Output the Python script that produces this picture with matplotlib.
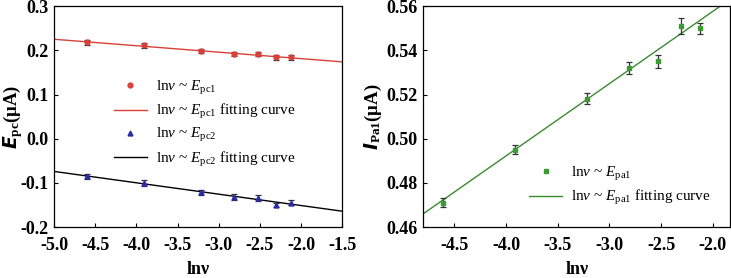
import matplotlib.pyplot as plt
import numpy as np

plt.rcParams['font.family'] = ['Liberation Serif', 'DejaVu Serif']
plt.rcParams['mathtext.fontset'] = 'custom'
plt.rcParams['mathtext.rm'] = 'Liberation Serif'
plt.rcParams['mathtext.it'] = 'Liberation Serif:italic'
plt.rcParams['mathtext.bf'] = 'Liberation Serif:bold'

# scan rates as ln(v)
lnv = [-4.605, -3.912, -3.219, -2.813, -2.526, -2.303, -2.120]

epc1 = [0.218, 0.211, 0.199, 0.192, 0.192, 0.184, 0.184]
epc1_err = [0.005, 0.005, 0.005, 0.005, 0.005, 0.005, 0.005]
epc2 = [-0.085, -0.100, -0.121, -0.132, -0.135, -0.150, -0.145]
epc2_err = [0.006, 0.006, 0.006, 0.007, 0.007, 0.005, 0.006]
ipa1 = [0.471, 0.495, 0.518, 0.532, 0.535, 0.551, 0.550]
ipa1_err = [0.002, 0.002, 0.0025, 0.0025, 0.003, 0.0035, 0.0025]

# fitting lines (slope, intercept)
fit_pc1 = [-0.0146, 0.152]
fit_pc2 = [-0.0257, -0.2025]
fit_pa1 = [0.0327, 0.623]

left_x = [-5.0, -1.5]
right_x = [-4.8, -1.83]

fig = plt.figure(figsize=(7.31, 2.78), dpi=100)
ax1 = fig.add_axes([0.074, 0.183, 0.394, 0.795])
ax2 = fig.add_axes([0.579, 0.183, 0.42, 0.795])

def style(ax):
    ax.tick_params(direction='in', length=3, width=0.8, labelsize=13)
    ax.tick_params(axis='x', pad=7)
    ax.tick_params(axis='y', pad=4)
    for lab in ax.get_xticklabels() + ax.get_yticklabels():
        lab.set_fontweight('bold')
    for s in ax.spines.values():
        s.set_linewidth(0.9)

eb = dict(ms=3.5, ecolor='#333333', elinewidth=0.9, capsize=2.5, capthick=0.9, zorder=3)
leg = dict(frameon=False, fontsize=11, handlelength=2.15, labelspacing=0.35,
           handletextpad=0.6, borderpad=0.2)

# left panel
xs = np.array(left_x)
p1 = ax1.errorbar(lnv, epc1, yerr=epc1_err, fmt='o', color='#d9403a', **eb)
l1, = ax1.plot(xs, fit_pc1[0] * xs + fit_pc1[1], color='#d9403a', lw=1.0)
p2 = ax1.errorbar(lnv, epc2, yerr=epc2_err, fmt='^', color='#2a2aa8', **eb)
l2, = ax1.plot(xs, fit_pc2[0] * xs + fit_pc2[1], color='black', lw=1.0)
ax1.set_xlim(left_x)
ax1.set_ylim(-0.2, 0.3)
ax1.set_xticks(np.arange(-5.0, -1.4, 0.5))
ax1.set_yticks([-0.2, -0.1, 0.0, 0.1, 0.2, 0.3])
ax1.set_xticklabels(['-5.0', '-4.5', '-4.0', '-3.5', '-3.0', '-2.5', '-2.0', '-1.5'])
ax1.set_yticklabels(['-0.2', '-0.1', '0.0', '0.1', '0.2', '0.3'])
ax1.set_xlabel('ln\u03bd', fontsize=13, fontweight='bold', labelpad=5)
ax1.set_ylabel(r'$\boldsymbol{E}_{\mathbf{pc}}$($\mathbf{\mu}$A)', fontsize=13.5,
               fontweight='bold')
ax1.yaxis.set_label_coords(-0.10, 0.5)
ax1.legend([p1[0], l1, p2[0], l2],
           [r'ln$\nu$ ~ $E_{\rm pc1}$', r'ln$\nu$ ~ $E_{\rm pc1}$ fitting curve',
            r'ln$\nu$ ~ $E_{\rm pc2}$', r'ln$\nu$ ~ $E_{\rm pc2}$ fitting curve'],
           loc='upper left', bbox_to_anchor=(0.17, 0.72), **leg)
style(ax1)

# right panel
xr = np.array(right_x)
p3 = ax2.errorbar(lnv, ipa1, yerr=ipa1_err, fmt='s', color='#3f9a35', **eb)
l3, = ax2.plot(xr, fit_pa1[0] * xr + fit_pa1[1], color='#3a8a30', lw=1.0)
ax2.set_xlim(right_x)
ax2.set_ylim(0.46, 0.56)
ax2.set_xticks([-4.5, -4.0, -3.5, -3.0, -2.5, -2.0])
ax2.set_xticklabels(['-4.5', '-4.0', '-3.5', '-3.0', '-2.5', '-2.0'])
ax2.set_yticks([0.46, 0.48, 0.50, 0.52, 0.54, 0.56])
ax2.set_yticklabels(['0.46', '0.48', '0.50', '0.52', '0.54', '0.56'])
ax2.set_xlabel('ln\u03bd', fontsize=13, fontweight='bold', labelpad=5)
ax2.set_ylabel(r'$\boldsymbol{I}_{\mathbf{Pa1}}$($\mathbf{\mu}$A)', fontsize=13.5,
               fontweight='bold', labelpad=2)
ax2.legend([p3[0], l3],
           [r'ln$\nu$ ~ $E_{\rm pa1}$', r'ln$\nu$ ~ $E_{\rm pa1}$ fitting curve'],
           loc='upper left', bbox_to_anchor=(0.31, 0.33), **leg)
style(ax2)

fig.savefig('out.png', dpi=100)
